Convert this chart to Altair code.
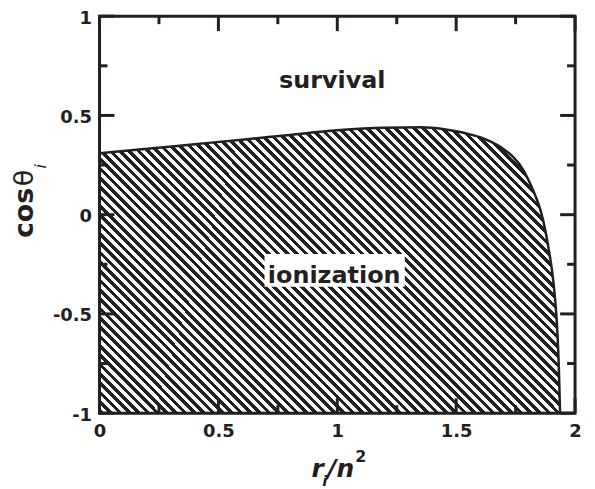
import altair as alt
import pandas as pd

# ---- data ----
curve_x = [0, 0.2, 0.4, 0.6, 0.8, 1.0, 1.2, 1.35, 1.45, 1.5, 1.55, 1.6, 1.65, 1.7, 1.74, 1.78,
           1.81, 1.835, 1.855, 1.875, 1.89, 1.905, 1.917, 1.926, 1.932, 1.937]
curve_y = [0.31, 0.332, 0.355, 0.378, 0.402, 0.425, 0.438, 0.44, 0.43, 0.42, 0.407, 0.39, 0.365, 0.33, 0.29, 0.23,
           0.16, 0.09, 0.02, -0.08, -0.18, -0.3, -0.44, -0.6, -0.78, -1.0]

x_major = [0, 0.5, 1, 1.5, 2]
x_minor = [0.25, 0.75, 1.25, 1.75]
y_major = [-1, -0.5, 0, 0.5, 1]
y_minor = [-0.75, -0.25, 0.25, 0.75]

region_labels = ["survival", "ionization"]
region_x = [0.979, 0.987]
region_y = [0.639, -0.343]
box_x = [0.989]
box_y = [-0.281]

# ---- style ----
W, H = 478, 399
INK = "#231f20"
FONT = "DejaVu Sans"

xs = alt.Scale(domain=[0, 2], nice=False, zero=False)
ys = alt.Scale(domain=[-1, 1], nice=False, zero=False)

df = pd.DataFrame({"x": curve_x, "y": curve_y, "y0": [-1] * len(curve_x)})

# diagonal hatch as a hard-stop linear gradient (style only)
N = 80
stops = []
for i in range(N):
    a = i / N
    b = (i + 0.5) / N
    c = (i + 1) / N
    stops += [{"offset": a, "color": INK}, {"offset": b, "color": INK},
              {"offset": b, "color": "white"}, {"offset": c, "color": "white"}]
r = 287 / 463
k = (1 + r) / (1 + r * r)
hatch = {"gradient": "linear", "x1": 0, "y1": 1, "x2": k, "y2": 1 - k * r, "stops": stops}

LABEL_EXPR = "datum.value < 0 ? '-' + format(-datum.value, '~g') : format(datum.value, '~g')"

xaxis = alt.Axis(values=x_major, labelExpr=LABEL_EXPR, ticks=False, domain=False,
                 grid=False, title=None, labelFont=FONT, labelFontSize=18, labelFontWeight="bold",
                 labelColor=INK, labelPadding=9, labelFlush=False, labelOverlap=False)
yaxis = alt.Axis(values=y_major, labelExpr=LABEL_EXPR, ticks=False, domain=False,
                 grid=False, title=None, labelFont=FONT, labelFontSize=18, labelFontWeight="bold",
                 labelColor=INK, labelPadding=8, labelFlush=False, labelOverlap=False,
                 labelOffset=2)


def X(f):
    return alt.X(f, type="quantitative", scale=xs, axis=xaxis)


def Y(f):
    return alt.Y(f, type="quantitative", scale=ys, axis=yaxis)


area = alt.Chart(df).mark_area(fill=hatch, interpolate="monotone").encode(
    x=X("x"), y=Y("y"), y2="y0")
line = alt.Chart(df).mark_line(color=INK, strokeWidth=2.5, interpolate="monotone").encode(
    x=X("x"), y=Y("y"))


def xticks(vals, length, top):
    d = pd.DataFrame({"v": vals})
    if top:
        yy, yy2 = alt.value(0), alt.value(length)
    else:
        yy, yy2 = alt.value(H), alt.value(H - length)
    return alt.Chart(d).mark_rule(color=INK, strokeWidth=3).encode(x=X("v"), y=yy, y2=yy2)


def yticks(vals, length, right):
    d = pd.DataFrame({"v": vals})
    if right:
        xx, xx2 = alt.value(W), alt.value(W - length)
    else:
        xx, xx2 = alt.value(0), alt.value(length)
    return alt.Chart(d).mark_rule(color=INK, strokeWidth=3).encode(y=Y("v"), x=xx, x2=xx2)


ticks = [
    xticks(x_major, 15, False), xticks(x_minor, 8, False),
    xticks(x_major, 15, True), xticks(x_minor, 8, True),
    yticks(y_major, 15, False), yticks(y_minor, 8, False),
    yticks(y_major, 15, True), yticks(y_minor, 8, True),
]

frame = alt.Chart(pd.DataFrame({"a": [0]})).mark_rect(
    filled=False, stroke=INK, strokeWidth=3).encode(
    x=alt.value(0), x2=alt.value(W), y=alt.value(0), y2=alt.value(H))

box = alt.Chart(pd.DataFrame({"x": box_x, "y": box_y})).mark_point(
    shape="M-1,-0.234L1,-0.234L1,0.234L-1,0.234Z", filled=True, fill="white",
    opacity=1, size=19881, strokeWidth=0).encode(x=X("x"), y=Y("y"))

region_text = alt.Chart(pd.DataFrame({"x": region_x, "y": region_y, "t": region_labels})).mark_text(
    font=FONT, fontSize=24, fontWeight="bold", color=INK, align="center", baseline="alphabetic").encode(
    x=X("x"), y=Y("y"), text="t:N")


def label(txt, px, py, size, weight="bold", style="normal", angle=0):
    return alt.Chart(pd.DataFrame({"t": [txt]})).mark_text(
        font=FONT, fontSize=size, fontWeight=weight, fontStyle=style, color=INK,
        align="left", baseline="alphabetic", angle=angle).encode(
        x=alt.value(px), y=alt.value(py), text="t:N")


# x title: r_i / n^2
xt = [
    label("r", 213, 463, 25, "bold", "italic"),
    label("i", 224, 472, 15, "bold", "italic"),
    label("/n", 229, 463, 25, "bold", "italic"),
    label("2", 257, 448, 16, "bold"),
]
# y title: cos θ_i (rotated)
yt = [
    label("cos", -67, 223, 27, "bold", "normal", 270),
    label("θ", -67, 171, 27, "normal", "normal", 270),
    label("i", -54, 153, 16, "normal", "italic", 270),
]

chart = alt.layer(area, line, *ticks, frame, box, region_text, *xt, *yt).properties(
    width=W, height=H,
    autosize=alt.AutoSizeParams(type="none"),
    padding={"left": 92, "top": 7, "right": 12, "bottom": 75},
)

chart.save("out.html", embed_options={"renderer": "svg", "actions": False})
